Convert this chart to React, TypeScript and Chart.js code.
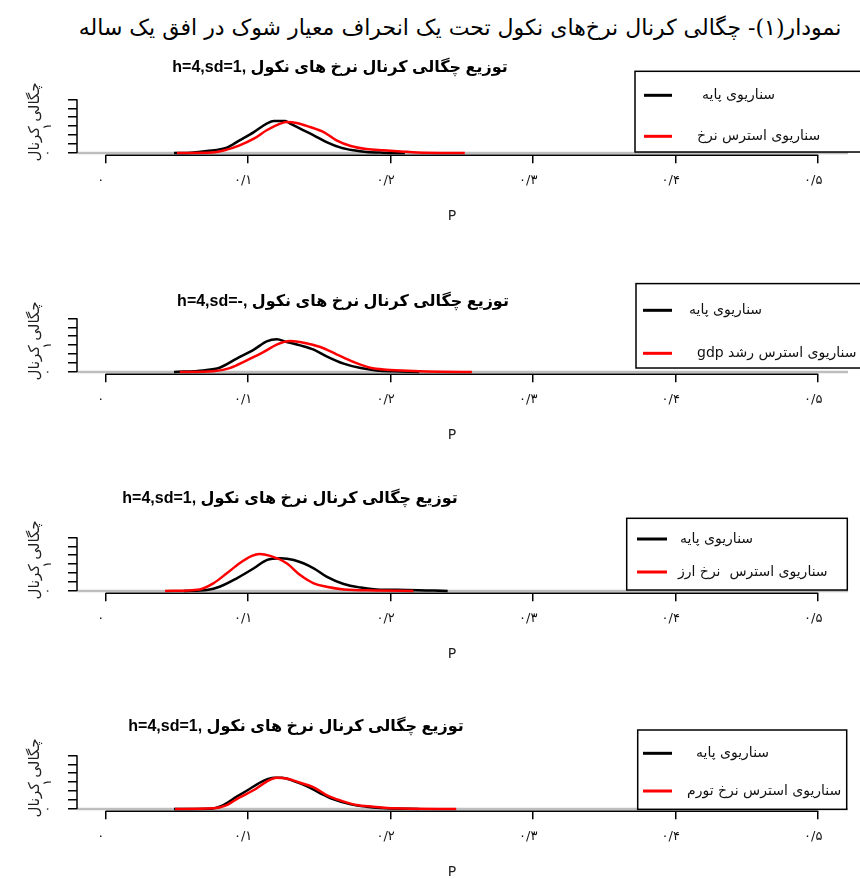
import React, { useEffect, useRef } from "react";
import { Chart, registerables } from "chart.js";

Chart.register(...registerables);

// ---------- data ----------
const MAIN_TITLE = "نمودار(۱)- چگالی کرنال نرخ‌های نکول تحت یک انحراف معیار شوک در افق یک ساله";
const Y_AXIS_TITLE = "چگالی کرنال";
const X_AXIS_TITLE = "P";

const X_TICKS = [0, 0.1, 0.2, 0.3, 0.4, 0.5];
const X_TICK_LABELS = ["۰", "۰/۱", "۰/۲", "۰/۳", "۰/۴", "۰/۵"];
const Y_TICKS = [0, 5, 10, 15, 20, 25, 30];
const Y_TICK_LABELS = ["۰", "", "", "۱", "", "", ""];

const PANEL_TITLES = [
  "h=4,sd=1, توزیع چگالی کرنال نرخ های نکول",
  "h=4,sd=-, توزیع چگالی کرنال نرخ های نکول",
  "h=4,sd=1, توزیع چگالی کرنال نرخ های نکول",
  "h=4,sd=1, توزیع چگالی کرنال نرخ های نکول",
];
const BASE_LABEL = "سناریوی پایه";
const STRESS_LABELS = [
  "سناریوی استرس نرخ",
  "سناریوی استرس رشد gdp",
  "سناریوی استرس  نرخ ارز",
  "سناریوی استرس نرخ تورم",
];

// panel 1 – interest-rate stress
const P1_BASE_X = [0.048, 0.06, 0.071, 0.085, 0.094, 0.104, 0.113, 0.118, 0.126, 0.1295, 0.1365, 0.146, 0.155, 0.165, 0.174, 0.183, 0.195, 0.21];
const P1_BASE_Y = [0, 0.2, 1.1, 3.0, 7.1, 11.7, 16.4, 17.9, 17.9, 16.4, 13.6, 9.9, 6.1, 3.0, 1.5, 0.6, 0.2, 0];
const P1_STRESS_X = [0.05, 0.075, 0.085, 0.094, 0.104, 0.113, 0.1225, 0.127, 0.134, 0.1436, 0.153, 0.162, 0.172, 0.183, 0.195, 0.207, 0.2185, 0.252];
const P1_STRESS_Y = [0, 0.3, 1.9, 4.3, 8.0, 12.7, 16.4, 17.3, 16.8, 14.5, 11.7, 7.1, 3.9, 2.2, 1.5, 0.9, 0.3, 0];

// panel 2 – gdp growth stress
const P2_BASE_X = [0.048, 0.0686, 0.08, 0.092, 0.104, 0.113, 0.12, 0.127, 0.1365, 0.146, 0.155, 0.167, 0.179, 0.19, 0.202, 0.22];
const P2_BASE_Y = [0, 0.9, 2.4, 7.5, 12.5, 17.1, 18.3, 16.8, 14.9, 12.5, 8.8, 4.7, 2.2, 0.9, 0.4, 0];
const P2_STRESS_X = [0.052, 0.0756, 0.087, 0.099, 0.111, 0.12, 0.1295, 0.139, 0.1506, 0.162, 0.174, 0.1857, 0.197, 0.216, 0.235, 0.257];
const P2_STRESS_Y = [0, 0.4, 2.2, 6.5, 11.2, 15.3, 17.3, 16.4, 14.0, 9.9, 5.6, 2.4, 1.3, 0.6, 0.2, 0];

// panel 3 – exchange-rate stress
const P3_BASE_X = [0.055, 0.071, 0.08, 0.092, 0.104, 0.113, 0.1225, 0.132, 0.146, 0.155, 0.167, 0.179, 0.19, 0.2115, 0.24];
const P3_BASE_Y = [0, 0.6, 2.4, 7.1, 12.7, 17.3, 18.3, 17.3, 12.7, 8.0, 3.9, 1.9, 0.9, 0.6, 0];
const P3_STRESS_X = [0.0417, 0.066, 0.0756, 0.085, 0.094, 0.1026, 0.108, 0.1155, 0.127, 0.1365, 0.146, 0.155, 0.167, 0.19, 0.216];
const P3_STRESS_Y = [0, 0.9, 4.3, 9.9, 15.5, 19.6, 20.7, 19.6, 15.5, 8.9, 4.3, 2.4, 0.9, 0.3, 0];

// panel 4 – inflation stress
const P4_BASE_X = [0.048, 0.073, 0.0826, 0.092, 0.101, 0.111, 0.118, 0.1237, 0.132, 0.141, 0.1506, 0.16, 0.172, 0.183, 0.197, 0.22];
const P4_BASE_Y = [0, 0.1, 2.2, 6.9, 11.2, 15.8, 17.5, 17.5, 15.6, 12.8, 8.8, 5.4, 2.6, 1.3, 0.4, 0];
const P4_STRESS_X = [0.0487, 0.0756, 0.085, 0.094, 0.104, 0.113, 0.12, 0.127, 0.1365, 0.146, 0.155, 0.165, 0.176, 0.188, 0.202, 0.246];
const P4_STRESS_Y = [0, 0.4, 2.2, 6.5, 10.6, 15.3, 17.5, 17.1, 14.7, 12.1, 7.8, 4.7, 2.2, 1.3, 0.4, 0];

// ---------- layout (pixels) ----------
type Layout = {
  base: number; // page y of the density zero line
  titleX: number;
  titleDy: number;
  box: [number, number, number, number]; // x1, dy1, x2, dy2
  entryDy: [number, number];
  lineX: [number, number];
  textX: [number, number];
};

const LAYOUTS: Layout[] = [
  { base: 152.7, titleX: 340, titleDy: -85.7, box: [635, -81.7, 872, -1], entryDy: [-57.7, -16.7], lineX: [644, 672], textX: [702, 697] },
  { base: 371.7, titleX: 343, titleDy: -70, box: [636, -88.4, 872, -4], entryDy: [-61.7, -18.7], lineX: [643, 672], textX: [689, 697] },
  { base: 591, titleX: 290, titleDy: -92, box: [626.7, -72.7, 847.3, -1], entryDy: [-52, -19], lineX: [637, 667], textX: [680, 678] },
  { base: 809, titleX: 296, titleDy: -82, box: [637.7, -79, 846.7, 0.3], entryDy: [-55.7, -18], lineX: [643, 672], textX: [696, 687] },
];

const PANELS = [
  { bx: P1_BASE_X, by: P1_BASE_Y, sx: P1_STRESS_X, sy: P1_STRESS_Y },
  { bx: P2_BASE_X, by: P2_BASE_Y, sx: P2_STRESS_X, sy: P2_STRESS_Y },
  { bx: P3_BASE_X, by: P3_BASE_Y, sx: P3_STRESS_X, sy: P3_STRESS_Y },
  { bx: P4_BASE_X, by: P4_BASE_Y, sx: P4_STRESS_X, sy: P4_STRESS_Y },
];

const CANVAS_W = 860;
const CANVAS_H = 190;
const TOP_OFFSET = 110;
const AR_FONT = '"DejaVu Sans", sans-serif';
const TITLE_FONT = 'bold 16px "Liberation Sans", "DejaVu Sans", sans-serif';

function pts(xs: number[], ys: number[]) {
  return xs.map((x, i) => ({ x, y: ys[i] }));
}

function makePlugin(idx: number) {
  const L = LAYOUTS[idx];
  return {
    id: "rstyle" + idx,
    beforeDatasetsDraw(chart: any) {
      const { ctx, chartArea, scales } = chart;
      const y0 = scales.y.getPixelForValue(0);
      ctx.save();
      ctx.strokeStyle = "#bebebe";
      ctx.lineWidth = 2.5;
      ctx.beginPath();
      ctx.moveTo(chartArea.left, y0);
      ctx.lineTo(chartArea.right, y0);
      ctx.stroke();
      ctx.restore();
    },
    afterDraw(chart: any) {
      const { ctx, chartArea, scales } = chart;
      const xs = scales.x;
      const ys = scales.y;
      const base = ys.getPixelForValue(0);
      ctx.save();
      // axis lines (R style: only between first and last tick)
      ctx.strokeStyle = "#000";
      ctx.lineWidth = 1.5;
      ctx.beginPath();
      ctx.moveTo(xs.getPixelForValue(X_TICKS[0]), chartArea.bottom);
      ctx.lineTo(xs.getPixelForValue(X_TICKS[X_TICKS.length - 1]), chartArea.bottom);
      ctx.moveTo(chartArea.left, ys.getPixelForValue(Y_TICKS[0]));
      ctx.lineTo(chartArea.left, ys.getPixelForValue(Y_TICKS[Y_TICKS.length - 1]));
      ctx.stroke();

      // y tick labels rotated
      ctx.fillStyle = "#111";
      ctx.font = "12px " + AR_FONT;
      ctx.textAlign = "center";
      ctx.textBaseline = "middle";
      Y_TICKS.forEach((v, i) => {
        const t = Y_TICK_LABELS[i];
        if (!t) return;
        ctx.save();
        ctx.translate(chartArea.left - 29, ys.getPixelForValue(v));
        ctx.rotate(-Math.PI / 2);
        ctx.fillText(t, 0, 0);
        ctx.restore();
      });

      // y axis title
      ctx.save();
      ctx.font = "15px " + AR_FONT;
      ctx.fillStyle = "#222";
      ctx.direction = "rtl";
      ctx.translate(35, base - 31);
      ctx.rotate(-Math.PI / 2);
      ctx.textAlign = "center";
      ctx.fillText(Y_AXIS_TITLE, 0, 0);
      ctx.restore();

      // x axis title
      ctx.font = "14px " + AR_FONT;
      ctx.fillStyle = "#222";
      ctx.textAlign = "center";
      ctx.fillText(X_AXIS_TITLE, 452, chartArea.bottom + 61);

      // panel title
      ctx.font = TITLE_FONT;
      ctx.fillStyle = "#000";
      ctx.direction = "ltr";
      ctx.textAlign = "center";
      ctx.fillText(PANEL_TITLES[idx], L.titleX, base + L.titleDy);

      // legend
      const [bx1, bdy1, bx2, bdy2] = L.box;
      ctx.fillStyle = "#fff";
      ctx.fillRect(bx1, base + bdy1, bx2 - bx1, bdy2 - bdy1);
      ctx.strokeStyle = "#000";
      ctx.lineWidth = 1.5;
      ctx.strokeRect(bx1, base + bdy1, bx2 - bx1, bdy2 - bdy1);
      const colors = ["#000000", "#ff0000"];
      const labels = [BASE_LABEL, STRESS_LABELS[idx]];
      for (let i = 0; i < 2; i++) {
        const yy = base + L.entryDy[i];
        ctx.strokeStyle = colors[i];
        ctx.lineWidth = 3;
        ctx.beginPath();
        ctx.moveTo(L.lineX[0], yy);
        ctx.lineTo(L.lineX[1], yy);
        ctx.stroke();
        ctx.fillStyle = "#111";
        ctx.font = "14px " + AR_FONT;
        ctx.direction = "rtl";
        ctx.textAlign = "left";
        ctx.textBaseline = "middle";
        ctx.fillText(labels[i], L.textX[i], yy);
      }
      ctx.restore();
    },
  };
}

function Panel({ idx }: { idx: number }) {
  const ref = useRef<HTMLCanvasElement>(null);
  useEffect(() => {
    const d = PANELS[idx];
    const chart = new Chart(ref.current as HTMLCanvasElement, {
      type: "line",
      data: {
        datasets: [
          {
            label: BASE_LABEL,
            data: pts(d.bx, d.by),
            borderColor: "#000000",
            borderWidth: 2.5,
            pointRadius: 0,
            cubicInterpolationMode: "monotone",
            order: 1,
          },
          {
            label: STRESS_LABELS[idx],
            data: pts(d.sx, d.sy),
            borderColor: "#ff0000",
            borderWidth: 2.5,
            pointRadius: 0,
            cubicInterpolationMode: "monotone",
            order: 0,
          },
        ],
      },
      options: {
        responsive: false,
        animation: false,
        layout: { padding: { left: 0, right: 12, top: 50.4, bottom: 0 } },
        plugins: { legend: { display: false }, title: { display: false }, tooltip: { enabled: false } },
        scales: {
          x: {
            type: "linear",
            min: -0.0201,
            max: 0.5209,
            afterBuildTicks: (s: any) => {
              s.ticks = X_TICKS.map((v) => ({ value: v }));
            },
            afterFit: (s: any) => {
              s.height = 77.7;
            },
            grid: { display: true, drawOnChartArea: false, drawTicks: true, tickLength: 8, color: "#000", lineWidth: 1.5 },
            border: { display: false },
            ticks: {
              autoSkip: false,
              maxRotation: 0,
              padding: 10,
              labelOffset: -5,
              color: "#111",
              font: { size: 13, family: AR_FONT },
              callback: (_v: any, i: number) => X_TICK_LABELS[i],
            },
          },
          y: {
            type: "linear",
            min: -1.28,
            max: 33.3,
            afterBuildTicks: (s: any) => {
              s.ticks = Y_TICKS.map((v) => ({ value: v }));
            },
            afterFit: (s: any) => {
              s.width = 77;
            },
            grid: { display: true, drawOnChartArea: false, drawTicks: true, tickLength: 9, color: "#000", lineWidth: 1.5 },
            border: { display: false },
            ticks: { display: false },
          },
        },
      } as any,
      plugins: [makePlugin(idx) as any],
    });
    return () => chart.destroy();
  }, [idx]);
  return (
    <canvas
      ref={ref}
      width={CANVAS_W}
      height={CANVAS_H}
      style={{ position: "absolute", left: 0, top: LAYOUTS[idx].base - TOP_OFFSET, width: CANVAS_W, height: CANVAS_H }}
    />
  );
}

export default function App() {
  return (
    <div style={{ position: "fixed", left: 0, top: 0, width: 860, height: 879, overflow: "hidden", background: "#fff" }}>
      <div
        dir="rtl"
        style={{
          position: "absolute",
          left: 460,
          top: 13,
          transform: "translateX(-50%)",
          whiteSpace: "nowrap",
          fontFamily: '"DejaVu Serif", "DejaVu Sans", serif',
          fontSize: 22,
          lineHeight: "30px",
          color: "#000",
        }}
      >
        {MAIN_TITLE}
      </div>
      {[0, 1, 2, 3].map((i) => (
        <Panel key={i} idx={i} />
      ))}
    </div>
  );
}
